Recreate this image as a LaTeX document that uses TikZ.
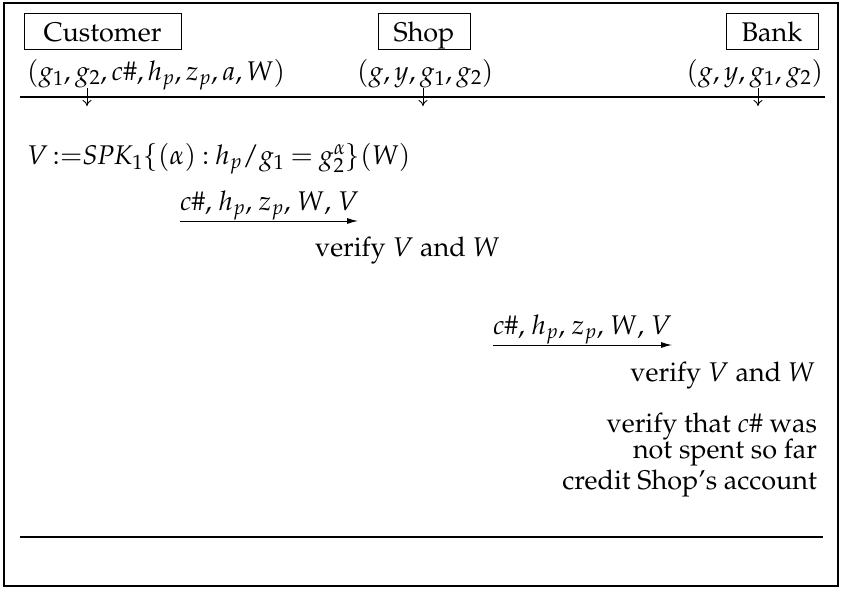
\documentclass[tikz,border=0pt]{standalone}
\usepackage[T1]{fontenc}
\usepackage{mathpazo}
\usetikzlibrary{arrows.meta}
\begin{document}
\begin{tikzpicture}[x=1pt,y=-1pt,
  every node/.style={inner sep=0pt,outer sep=0pt,font=\fontsize{27}{32}\selectfont},
  party/.style={draw,line width=1pt,minimum height=36pt,inner sep=0pt,text height=23pt,text depth=2pt},
  rule/.style={line width=1.1pt},
  down/.style={line width=0.9pt,-{To[length=6pt,width=9pt]}},
  msg/.style={line width=1pt,-{Latex[length=11pt,width=6pt]}}]
\useasboundingbox (0,0) rectangle (841,589);
\draw[line width=1.3pt] (4,3) rectangle (838,586);
% parties
\node[party,minimum width=157pt] (cust) at (102.5,31) {Customer};
\node[party,minimum width=92pt] (shop) at (424,31) {Shop};
\node[party,minimum width=92pt] (bank) at (772,31) {Bank};
% initial knowledge
\node[anchor=base west] (ct) at (27,80) {$(g_1,g_2,c\#,h_p,z_p,a,W)$};
\node[anchor=base west] (st) at (357,80) {$(g,y,g_1,g_2)$};
\node[anchor=base east] (bt) at (823,80) {$(g,y,g_1,g_2)$};
\coordinate (l1a) at (20,97);
\coordinate (l1b) at (825,97);
\draw[rule] (l1a) -- (l1b);
\coordinate (ca) at (87,88); \coordinate (cb) at (87,106);
\coordinate (sa) at (423,88); \coordinate (sb) at (423,106);
\coordinate (ba) at (758,88); \coordinate (bb) at (758,106);
\draw[down] (ca) -- (cb);
\draw[down] (sa) -- (sb);
\draw[down] (ba) -- (bb);
% protocol steps
\node[anchor=base west] (spk) at (27,164) {$\thickmuskip=4mu V\,{:=}\mathit{SPK}_1\{(\alpha):h_p/g_1=g_2^{\alpha}\}(W)$};
\node[anchor=base west] (m1) at (180,210) {$c\#$, $h_p$, $z_p$, $W$, $V$};
\coordinate (m1a) at (180,221); \coordinate (m1b) at (358,221);
\draw[msg] (m1a) -- (m1b);
\node[anchor=base west] (v1) at (315,256) {verify $V$ and $W$};
\node[anchor=base west] (m2) at (493,334) {$c\#$, $h_p$, $z_p$, $W$, $V$};
\coordinate (m2a) at (493,345); \coordinate (m2b) at (672,345);
\draw[msg] (m2a) -- (m2b);
\node[anchor=base east] (v2) at (815,381) {verify $V$ and $W$};
\node[anchor=base east] (v3) at (817,432) {verify that $c\#$ was};
\node[anchor=base east] (v4) at (817,458) {not spent so far};
\node[anchor=base east] (cr) at (817,489) {credit Shop's account};
\coordinate (l2a) at (20,537);
\coordinate (l2b) at (823,537);
\draw[rule] (l2a) -- (l2b);
\end{tikzpicture}
\end{document}
